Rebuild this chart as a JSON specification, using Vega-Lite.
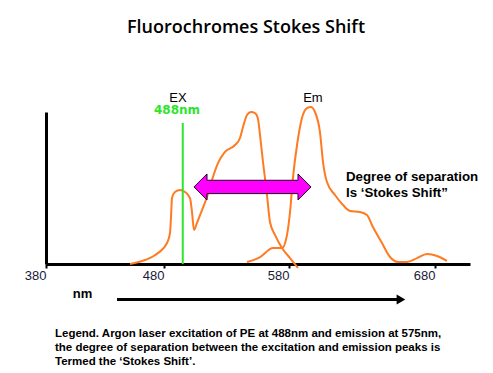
{
  "$schema": "https://vega.github.io/schema/vega-lite/v6.json",
  "width": 424,
  "height": 152,
  "autosize": {"type": "none"},
  "padding": {"left": 46, "top": 112, "right": 23, "bottom": 109},
  "background": "white",
  "config": {"view": {"stroke": null}},
  "datasets": {
    "ex": [
      {"nm": 451.2, "v": 0}, {"nm": 463.9, "v": 2.6}, {"nm": 474.9, "v": 7.2}, {"nm": 482.4, "v": 13.8},
      {"nm": 484.8, "v": 20.4}, {"nm": 485.6, "v": 30.9}, {"nm": 486.4, "v": 43.4}, {"nm": 488.8, "v": 47.4},
      {"nm": 492.8, "v": 48.7}, {"nm": 496.8, "v": 47.4}, {"nm": 500.8, "v": 43.4}, {"nm": 502.4, "v": 34.2},
      {"nm": 504.0, "v": 22.4}, {"nm": 506.4, "v": 27.0}, {"nm": 510.4, "v": 35.5}, {"nm": 514.4, "v": 44.1},
      {"nm": 518.4, "v": 55.3}, {"nm": 523.2, "v": 66.4}, {"nm": 528.8, "v": 73.7}, {"nm": 536.8, "v": 78.3},
      {"nm": 540.8, "v": 82.9}, {"nm": 543.2, "v": 90.1}, {"nm": 546.4, "v": 98.0}, {"nm": 549.6, "v": 100},
      {"nm": 552.8, "v": 99.3}, {"nm": 555.2, "v": 95.4}, {"nm": 556.8, "v": 84.9}, {"nm": 559.2, "v": 67.1},
      {"nm": 562.4, "v": 45.4}, {"nm": 564.8, "v": 27.6}, {"nm": 568.8, "v": 19.1}, {"nm": 574.4, "v": 10.5},
      {"nm": 580.7, "v": 3.9}, {"nm": 586.2, "v": -2.6}
    ],
    "em": [
      {"nm": 546.4, "v": 1.3}, {"nm": 556.8, "v": 4.6}, {"nm": 567.2, "v": 10.5}, {"nm": 574.4, "v": 10.5},
      {"nm": 578.4, "v": 19.1}, {"nm": 580.7, "v": 34.2}, {"nm": 582.7, "v": 56.6}, {"nm": 585.5, "v": 78.3},
      {"nm": 588.9, "v": 96.1}, {"nm": 592.3, "v": 102.6}, {"nm": 595.0, "v": 103.3}, {"nm": 597.8, "v": 100},
      {"nm": 601.2, "v": 86.8}, {"nm": 603.3, "v": 67.1}, {"nm": 606.0, "v": 53.9}, {"nm": 611.5, "v": 45.4},
      {"nm": 617.0, "v": 38.8}, {"nm": 621.8, "v": 34.9}, {"nm": 628.6, "v": 34.2}, {"nm": 633.4, "v": 32.2},
      {"nm": 637.5, "v": 24.3}, {"nm": 643.7, "v": 13.8}, {"nm": 649.2, "v": 4.6}, {"nm": 654.7, "v": 1.3},
      {"nm": 660.8, "v": 1.3}, {"nm": 667.7, "v": 3.9}, {"nm": 674.5, "v": 6.6}, {"nm": 681.4, "v": 5.3},
      {"nm": 688.2, "v": 2.0}
    ]
  },
  "encoding": {
    "x": {
      "type": "quantitative",
      "scale": {"domain": [380, 480, 580, 680, 704], "range": [0, 118, 243, 389, 424], "zero": false, "nice": false},
      "axis": {
        "title": null, "values": [380, 480, 580, 680], "grid": false,
        "domainColor": "black", "domainWidth": 3, "tickColor": "black", "tickWidth": 2, "tickSize": 4,
        "labelFont": "Liberation Sans", "labelFontSize": 13, "labelColor": "#1a1a3a",
        "labelAlign": "right", "labelDx": -1, "labelPadding": 1, "labelBaseline": "top", "labelFlush": false
      }
    },
    "y": {
      "type": "quantitative",
      "scale": {"domain": [0, 100], "zero": false, "nice": false},
      "axis": {"title": null, "labels": false, "ticks": false, "grid": false, "domainColor": "black", "domainWidth": 3}
    }
  },
  "layer": [
    {
      "data": {"name": "ex"},
      "mark": {"type": "line", "color": "#ff7a21", "strokeWidth": 2, "interpolate": "monotone"},
      "encoding": {"x": {"field": "nm"}, "y": {"field": "v"}}
    },
    {
      "data": {"name": "em"},
      "mark": {"type": "line", "color": "#ff7a21", "strokeWidth": 2, "interpolate": "monotone"},
      "encoding": {"x": {"field": "nm"}, "y": {"field": "v"}}
    },
    {
      "data": {"values": [{"nm": 495.0, "v0": 0, "v1": 92.8}]},
      "mark": {"type": "rule", "color": "#2ee52e", "strokeWidth": 2},
      "encoding": {"x": {"field": "nm"}, "y": {"field": "v0"}, "y2": {"field": "v1"}}
    },
    {
      "data": {"values": [{"nm": 550.8, "v": 50.7}]},
      "mark": {
        "type": "point", "filled": true, "fill": "#ff00ff", "fillOpacity": 1, "stroke": "#200020", "strokeWidth": 1, "opacity": 1,
        "shape": "M-1,0L-0.778,-0.222L-0.778,-0.114L0.778,-0.114L0.778,-0.222L1,0L0.778,0.222L0.778,0.114L-0.778,0.114L-0.778,0.222Z",
        "size": 13689
      },
      "encoding": {"x": {"field": "nm"}, "y": {"field": "v"}}
    },
    {
      "data": {"values": [{"x1": 440.2, "x2": 654.0, "v": -23.4}]},
      "mark": {"type": "rule", "color": "black", "strokeWidth": 3},
      "encoding": {"x": {"field": "x1"}, "x2": {"field": "x2"}, "y": {"field": "v"}}
    },
    {
      "data": {"values": [{"nm": 656.7, "v": -23.4}]},
      "mark": {"type": "point", "shape": "triangle-right", "filled": true, "color": "black", "opacity": 1, "size": 100},
      "encoding": {"x": {"field": "nm"}, "y": {"field": "v"}}
    },
    {
      "data": {"values": [{"nm": 545.6, "v": 151.8, "label": "Fluorochromes Stokes Shift"}]},
      "mark": {"type": "text", "font": "Open Sans", "fontSize": 18, "fontWeight": 600, "color": "black", "align": "center", "baseline": "alphabetic"},
      "encoding": {"x": {"field": "nm"}, "y": {"field": "v"}, "text": {"field": "label"}}
    },
    {
      "data": {"values": [{"nm": 491.2, "v": 106.9, "label": "EX"}, {"nm": 596.4, "v": 106.3, "label": "Em"}]},
      "mark": {"type": "text", "font": "Liberation Sans", "fontSize": 13, "color": "black", "align": "center", "baseline": "alphabetic"},
      "encoding": {"x": {"field": "nm"}, "y": {"field": "v"}, "text": {"field": "label"}}
    },
    {
      "data": {"values": [{"nm": 490.4, "v": 98.7, "label": "488nm"}]},
      "mark": {"type": "text", "font": "DejaVu Sans", "fontSize": 12, "fontWeight": "bold", "color": "#2ee52e", "align": "center", "baseline": "alphabetic"},
      "encoding": {"x": {"field": "nm"}, "y": {"field": "v"}, "text": {"field": "label"}}
    },
    {
      "data": {"values": [{"nm": 619.0, "v": 54.8, "label": "Degree of separation\nIs ‘Stokes Shift”"}]},
      "mark": {"type": "text", "font": "Liberation Sans", "fontSize": 13.3, "fontWeight": "bold", "color": "black", "align": "left", "baseline": "alphabetic", "lineBreak": "\n", "lineHeight": 16},
      "encoding": {"x": {"field": "nm"}, "y": {"field": "v"}, "text": {"field": "label"}}
    },
    {
      "data": {"values": [{"nm": 410.9, "v": -22.6, "label": "nm"}]},
      "mark": {"type": "text", "font": "Liberation Sans", "fontSize": 13, "fontWeight": "bold", "color": "black", "align": "center", "baseline": "alphabetic"},
      "encoding": {"x": {"field": "nm"}, "y": {"field": "v"}, "text": {"field": "label"}}
    },
    {
      "data": {"values": [{"nm": 387.6, "v": -48.2, "label": "Legend. Argon laser excitation of PE at 488nm and emission at 575nm,\nthe degree of separation between the excitation and emission peaks is\nTermed the ‘Stokes Shift’."}]},
      "mark": {"type": "text", "font": "Liberation Sans", "fontSize": 11.5, "fontWeight": "bold", "color": "black", "align": "left", "baseline": "alphabetic", "lineBreak": "\n", "lineHeight": 14},
      "encoding": {"x": {"field": "nm"}, "y": {"field": "v"}, "text": {"field": "label"}}
    }
  ]
}
